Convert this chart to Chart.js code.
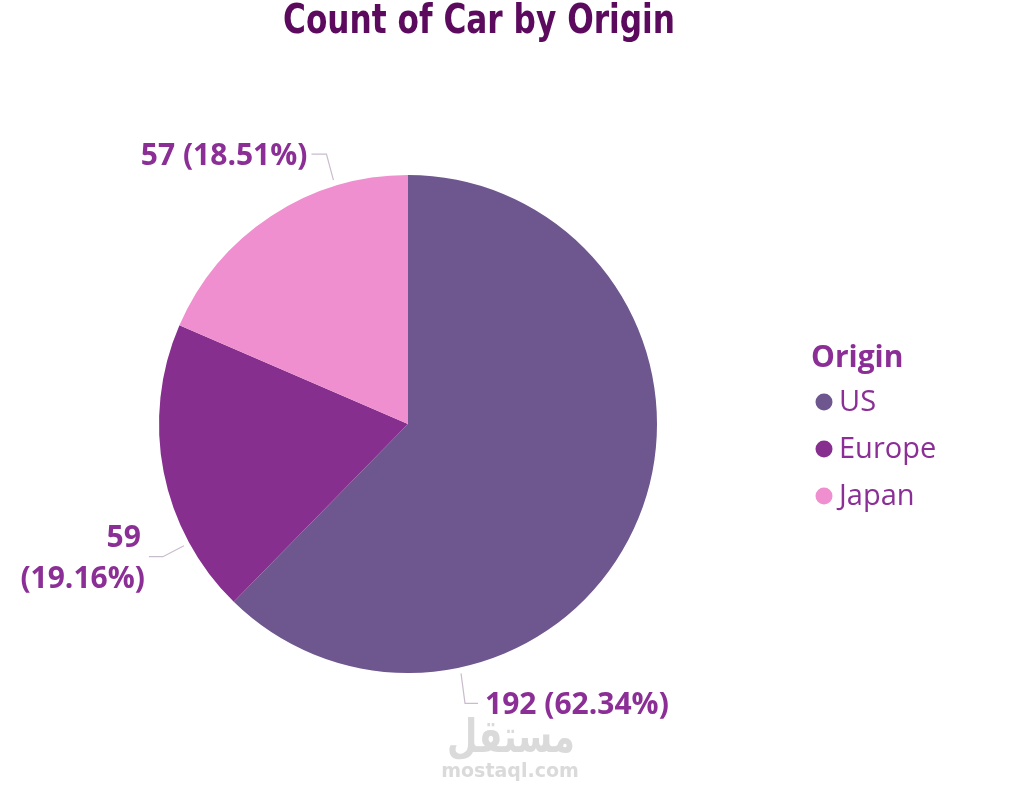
<!DOCTYPE html>
<html>
<head>
<meta charset="utf-8">
<script src="https://cdn.jsdelivr.net/npm/chart.js@4.4.1/dist/chart.umd.min.js"></script>
<style>
  html, body { margin: 0; padding: 0; background: #ffffff; }
  #wrap { width: 1019px; height: 798px; position: relative; }
</style>
</head>
<body>
<div id="wrap"><canvas id="pieChart"></canvas></div>
<script>
let origins = ['US', 'Europe', 'Japan'];
let carCounts = [192, 59, 57];
let sliceColors = ['#6e568e', '#872f8f', '#ef8fcf'];
let chartTitle = 'Count of Car by Origin';
let legendTitle = 'Origin';
// where each leader line leaves the rim (degrees clockwise from top)
let labelAngles = [168, 241.5, 343];

let textColor = '#8b2f96';
let total = carCounts.reduce(function(a, b) { return a + b; }, 0);

function labelText(i)
{
    let pct = (carCounts[i] / total * 100).toFixed(2) + '%';
    if (i == 1)
        return [String(carCounts[i]), '(' + pct + ')'];
    return [carCounts[i] + ' (' + pct + ')'];
}

// title, legend, data labels and the watermark
let decorPlugin = {
    id: 'decor',
    afterDraw: function(chart) {
        let ctx = chart.ctx;
        let arc = chart.getDatasetMeta(0).data[0];
        let cx = arc.x, cy = arc.y, r = arc.outerRadius;

        ctx.save();
        // title, squeezed a little to look like the condensed original
        ctx.font = 'bold 40px "DejaVu Sans"';
        ctx.fillStyle = '#5b0a5e';
        ctx.textAlign = 'left';
        ctx.textBaseline = 'middle';
        let tw = ctx.measureText(chartTitle).width;
        let sx = 392 / tw;
        ctx.translate(283, 23);
        ctx.scale(sx, 1);
        ctx.fillText(chartTitle, 0, 0);
        ctx.restore();

        // legend
        ctx.save();
        ctx.fillStyle = textColor;
        ctx.textBaseline = 'middle';
        ctx.textAlign = 'left';
        ctx.font = 'bold 30px "Open Sans"';
        let lx = cx + r + 154;
        ctx.fillText(legendTitle, lx, 358);
        ctx.font = '29px "Open Sans"';
        for (let i = 0; i < origins.length; i++)
        {
            let y = 402 + i * 47;
            ctx.beginPath();
            ctx.fillStyle = sliceColors[i];
            ctx.arc(lx + 13, y, 8.5, 0, Math.PI * 2);
            ctx.fill();
            ctx.fillStyle = textColor;
            ctx.fillText(origins[i], lx + 28, y + 1);
        }
        ctx.restore();

        // data labels with leader lines
        let elbows = [[4, 30, 13], [-21, 11, -14], [-7, -26, -15]];
        ctx.save();
        ctx.font = 'bold 30px "Open Sans"';
        ctx.fillStyle = textColor;
        ctx.strokeStyle = '#c9bccd';
        ctx.lineWidth = 1.2;
        ctx.textBaseline = 'middle';
        for (let i = 0; i < carCounts.length; i++)
        {
            let a = labelAngles[i] * Math.PI / 180;
            let x0 = cx + (r + 6) * Math.sin(a);
            let y0 = cy - (r + 6) * Math.cos(a);
            let x1 = x0 + elbows[i][0], y1 = y0 + elbows[i][1];
            let x2 = x1 + elbows[i][2];
            ctx.beginPath();
            ctx.moveTo(x0, y0);
            ctx.lineTo(x1, y1);
            ctx.lineTo(x2, y1);
            ctx.stroke();
            let lines = labelText(i);
            let right = elbows[i][2] < 0;
            ctx.textAlign = right ? 'right' : 'left';
            let tx = right ? x2 - 4 : x2 + 7;
            let ty = y1 + 2;
            if (lines.length > 1) ty = y1 - 18;
            for (let k = 0; k < lines.length; k++)
            {
                let xx = tx;
                if (k == 0 && lines.length > 1) xx = tx - 4;
                ctx.fillText(lines[k], xx, ty + k * 41);
            }
        }
        ctx.restore();

        // watermark
        ctx.save();
        ctx.fillStyle = '#dadada';
        ctx.textAlign = 'center';
        ctx.textBaseline = 'middle';
        ctx.font = 'bold 35px "DejaVu Sans"';
        ctx.translate(511, 740);
        ctx.scale(1, 1.3);
        ctx.fillText('مستقل', 0, 0);
        ctx.restore();
        ctx.save();
        ctx.fillStyle = '#dadada';
        ctx.textAlign = 'center';
        ctx.textBaseline = 'middle';
        ctx.font = 'bold 19px "DejaVu Sans"';
        ctx.fillText('mostaql.com', 510, 772);
        ctx.restore();
    }
};

let ctx1 = document.getElementById('pieChart').getContext('2d');
let myChart = new Chart(ctx1, {
    type: 'pie',
    data: {
        labels: origins,
        datasets: [{
            data: carCounts,
            backgroundColor: sliceColors,
            borderWidth: 0
        }]
    },
    options: {
        responsive: true,
        maintainAspectRatio: false,
        animation: false,
        layout: {
            padding: { left: 159, right: 362, top: 175, bottom: 125 }
        },
        plugins: {
            legend: { display: false },
            title: { display: false },
            tooltip: { enabled: false }
        }
    },
    plugins: [decorPlugin]
});
</script>
</body>
</html>
